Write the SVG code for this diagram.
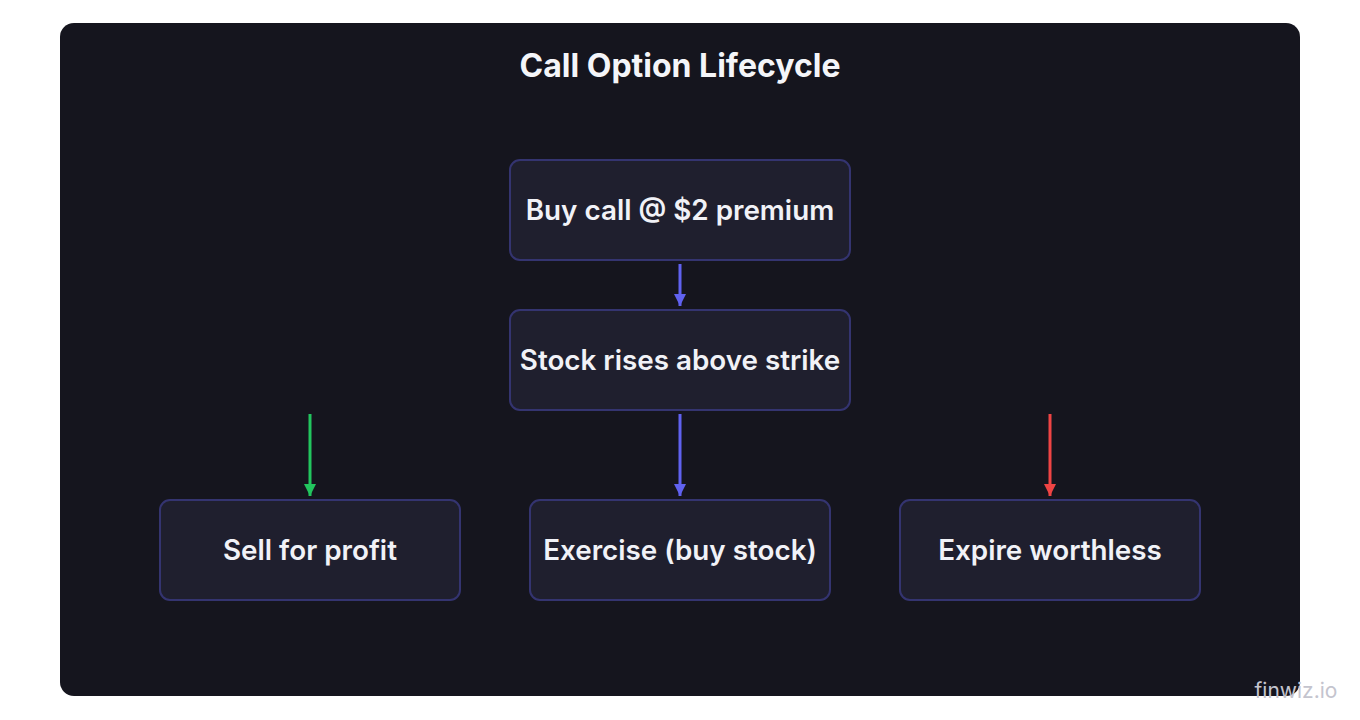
<svg xmlns="http://www.w3.org/2000/svg" width="1360" height="720" viewBox="0 0 1360 720">
<style>
.node rect{fill:#1f1f2e;stroke:#343470;stroke-width:2}
.node text{font-family:Inter,"Noto Sans",sans-serif;font-weight:600;font-size:27.8px;fill:#f1f2f7;text-anchor:middle;dominant-baseline:central}
.title{font-family:Inter,"Noto Sans",sans-serif;font-weight:700;font-size:32px;fill:#f4f5f9;text-anchor:middle;dominant-baseline:central}
.edge{stroke-width:3;fill:none}
</style>
<defs>
<marker id="ab" viewBox="0 0 12 12" refX="12" refY="6" markerWidth="12" markerHeight="12" markerUnits="userSpaceOnUse" orient="auto"><path d="M0,0L12,6L0,12z" fill="#6062f0"/></marker>
<marker id="ag" viewBox="0 0 12 12" refX="12" refY="6" markerWidth="12" markerHeight="12" markerUnits="userSpaceOnUse" orient="auto"><path d="M0,0L12,6L0,12z" fill="#22c55e"/></marker>
<marker id="ar" viewBox="0 0 12 12" refX="12" refY="6" markerWidth="12" markerHeight="12" markerUnits="userSpaceOnUse" orient="auto"><path d="M0,0L12,6L0,12z" fill="#ef4444"/></marker>
</defs>
<rect width="1360" height="720" fill="#ffffff"/>
<rect x="60" y="23" width="1240" height="673" rx="14" fill="#15151e"/>
<text class="title" x="680" y="65">Call Option Lifecycle</text>
<g id="connectors">
<line class="edge" x1="680" y1="264" x2="680" y2="306" stroke="#6062f0" marker-end="url(#ab)"/>
<line class="edge" x1="680" y1="414" x2="680" y2="496" stroke="#6062f0" marker-end="url(#ab)"/>
<line class="edge" x1="310" y1="414" x2="310" y2="496" stroke="#22c55e" marker-end="url(#ag)"/>
<line class="edge" x1="1050" y1="414" x2="1050" y2="496" stroke="#ef4444" marker-end="url(#ar)"/>
</g>
<g id="n-buy" class="node"><rect x="510" y="160" width="340" height="100" rx="10"/><text x="680" y="210">Buy call @ $2 premium</text></g>
<g id="n-rise" class="node"><rect x="510" y="310" width="340" height="100" rx="10"/><text x="680" y="360">Stock rises above strike</text></g>
<g id="n-sell" class="node"><rect x="160" y="500" width="300" height="100" rx="10"/><text x="310" y="550">Sell for profit</text></g>
<g id="n-exercise" class="node"><rect x="530" y="500" width="300" height="100" rx="10"/><text x="680" y="550">Exercise (buy stock)</text></g>
<g id="n-expire" class="node"><rect x="900" y="500" width="300" height="100" rx="10"/><text x="1050" y="550">Expire worthless</text></g>
<text x="1296" y="690" font-family="Inter,'Noto Sans',sans-serif" font-size="21" fill="#c4c4ce" text-anchor="middle" dominant-baseline="central">finwiz.io</text>
</svg>
